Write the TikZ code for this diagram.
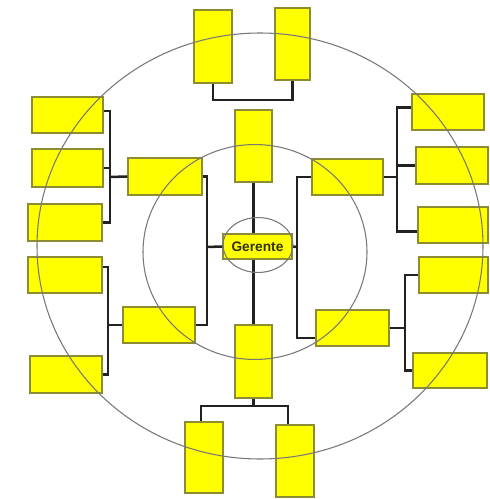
\documentclass[tikz,border=0pt]{standalone}
\usepackage{fontspec}
\setmainfont{Liberation Sans}
\definecolor{boxfill}{RGB}{255,255,0}
\definecolor{boxedge}{RGB}{140,140,48}
\definecolor{linkcol}{RGB}{34,34,34}
\definecolor{ringcol}{RGB}{120,120,120}
\definecolor{txtcol}{RGB}{50,50,10}
\newcommand\ybox[5]{\node[ybox, minimum width={(#4-#2)*0.75pt}, minimum height={(#5-#3)*0.75pt}] (#1) at ({(#2+#4)/2},{(#3+#5)/2}) {};}
\begin{document}
\begin{tikzpicture}[x=0.75pt,y=-0.75pt,
  ybox/.style={draw=boxedge, fill=boxfill, line width=1.1pt, inner sep=0pt, rectangle},
  link/.style={draw=linkcol, line width=1.9pt},
  ring/.style={draw=ringcol, line width=0.8pt}]
\useasboundingbox (0,0) rectangle (489,499);
% boxes
\ybox{t1}{194}{10}{232}{83}
\ybox{t2}{275}{8}{310}{80}
\ybox{c1}{235}{110}{272}{182}
\ybox{c2}{235}{325}{272}{398}
\ybox{b1}{185}{422}{223}{493}
\ybox{b2}{276}{425}{314}{497}
\ybox{lm1}{128}{158}{202}{195}
\ybox{lm2}{123}{307}{195}{343}
\ybox{rm1}{312}{159}{383}{195}
\ybox{rm2}{316}{310}{389}{346}
\ybox{l1}{32}{97}{103}{133}
\ybox{l2}{32}{149}{103}{187}
\ybox{l3}{28}{204}{102}{241}
\ybox{l4}{28}{257}{102}{293}
\ybox{l5}{30}{356}{102}{393}
\ybox{r1}{412}{94}{484}{130}
\ybox{r2}{416}{147}{488}{184}
\ybox{r3}{418}{207}{488}{243}
\ybox{r4}{419}{257}{488}{293}
\ybox{r5}{413}{353}{487}{388}
\node[ybox, minimum width={69*0.75pt}, minimum height={25*0.75pt}, text=txtcol,
  font=\fontsize{10.3}{12}\selectfont\bfseries] (g) at (257.5,246.5) {Gerente};
% junction coordinates
\coordinate (tj) at (213,100);
\coordinate (bjl) at (201,406);
\coordinate (bjr) at (288,406);
\coordinate (ls) at (207,247);
\coordinate (rs) at (297,247);
\coordinate (lu) at (110,177);
\coordinate (ll) at (108,325);
\coordinate (ru) at (397,177);
\coordinate (rl) at (405,328);
% connectors
\draw[link] (t1.south) |- (tj) -| (t2.south);
\draw[link] (c1.south) -- (c1.south |- g.north);
\draw[link] (c2.north |- g.south) -- (c2.north);
\draw[link] (c2.south) -- (c2.south |- bjl);
\draw[link] (bjl |- b1.north) -- (bjl) -- (bjr) -- (bjr |- b2.north);
\draw[link] (lm1.east) -| (ls) |- (lm2.east);
\draw[link] (ls) -- (g.west);
\draw[link] (rm1.west) -| (rs) |- ([yshift=-7.5pt]rm2.west);
\draw[link] (rs) -- (g.east);
\draw[link] ([yshift=3pt]l1.east) -| (lu) |- (l3.east);
\draw[link] (l2.east) -- (l2.east -| lu);
\draw[link] (lu) -- (lm1.west);
\draw[link] ([yshift=6pt]l4.east) -| (ll) |- (l5.east);
\draw[link] (ll) -- (lm2.west);
\draw[link] ([yshift=3.5pt]r1.west) -| (ru) |- ([yshift=-5pt]r3.west);
\draw[link] (r2.west) -- (r2.west -| ru);
\draw[link] (rm1.east) -- (ru);
\draw[link] (r4.west) -| (rl) |- (r5.west);
\draw[link] (rl) -- (rm2.east);
% rings
\draw[ring] (260,246) ellipse [x radius=167.25pt, y radius=159.75pt];
\draw[ring] (255,252) ellipse [x radius=84pt, y radius=80.6pt];
\draw[ring] (258,245) ellipse [x radius=26.25pt, y radius=20.6pt];
\end{tikzpicture}
\end{document}
